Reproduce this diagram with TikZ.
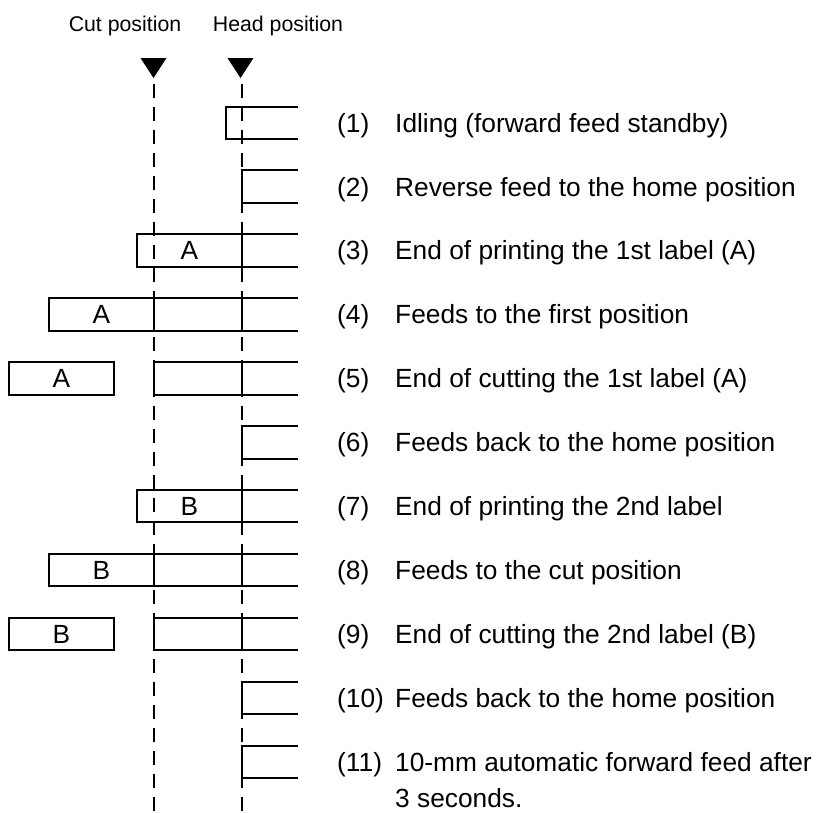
\documentclass[tikz,border=0pt]{standalone}
\usepackage{fontspec}
\setmainfont{Liberation Sans}
\begin{document}
\begin{tikzpicture}[x=1pt,y=-1pt,
  strip/.style={line width=2pt},
  guide/.style={line width=2.2pt, dash pattern=on 14pt off 9pt},
  marker/.style={fill=black},
  txt/.style={anchor=base west, inner sep=0pt, font=\fontsize{26.3}{32}\selectfont},
  hdr/.style={anchor=base, inner sep=0pt, font=\fontsize{21.3}{26}\selectfont},
  lbl/.style={anchor=base, inner sep=0pt, font=\fontsize{26.3}{32}\selectfont}]
\useasboundingbox (0,0) rectangle (819,812);
% headers
\node[hdr] (cuth) at (125,31.6) {Cut position};
\node[hdr] (headh) at (278,31.6) {Head position};
% markers
\coordinate (cuttop) at (154,84);
\coordinate (cutbot) at (154,812);
\coordinate (headtop) at (242,84);
\coordinate (headbot) at (242,812);
\fill[marker] (140.5,58) -- (166.5,58) -- (153.5,78) -- cycle;
\fill[marker] (227.5,58) -- (253.5,58) -- (240.5,78) -- cycle;
% guides
\draw[guide] (cuttop) -- (cutbot);
\draw[guide] (headtop) -- (headbot);
% strips
\foreach \i/\kind/\lab in {1/I/,2/H/,3/P/A,4/F/A,5/C/A,6/H/,7/P/B,8/F/B,9/C/B,10/H/,11/H/}{
  \pgfmathsetmacro{\T}{106.5+63.9*(\i-1)}
  \pgfmathsetmacro{\B}{\T+32.5}
  \pgfmathsetmacro{\M}{\T+16.25}
  \pgfmathsetmacro{\L}{\M+9.4}
  \if\kind I
    \draw[strip] (298,\T) -| (226,\B) -- (298,\B);
  \fi
  \if\kind H
    \draw[strip] (298,\T) -| (242,\B) -- (298,\B);
  \fi
  \if\kind P
    \draw[strip] (298,\T) -| (137,\B) -- (298,\B);
    \draw[strip] (242,\T) -- (242,\B);
    \node[lbl] (lab\i) at (189.5,\L) {\lab};
  \fi
  \if\kind F
    \draw[strip] (298,\T) -| (49,\B) -- (298,\B);
    \draw[strip] (154,\T) -- (154,\B);
    \draw[strip] (242,\T) -- (242,\B);
    \node[lbl] (lab\i) at (101.5,\L) {\lab};
  \fi
  \if\kind C
    \draw[strip] (9,\T) rectangle (114,\B);
    \draw[strip] (298,\T) -| (154,\B) -- (298,\B);
    \draw[strip] (242,\T) -- (242,\B);
    \node[lbl] (lab\i) at (61.5,\L) {\lab};
  \fi
}
% step texts
\foreach \i/\t in {1/{Idling (forward feed standby)},
  2/{Reverse feed to the home position},
  3/{End of printing the 1st label (A)},
  4/{Feeds to the first position},
  5/{End of cutting the 1st label (A)},
  6/{Feeds back to the home position},
  7/{End of printing the 2nd label},
  8/{Feeds to the cut position},
  9/{End of cutting the 2nd label (B)},
  10/{Feeds back to the home position},
  11/{10-mm automatic forward feed after}}{
  \pgfmathsetmacro{\L}{106.5+63.9*(\i-1)+16.25+9.4}
  \node[txt] (num\i) at (337,\L) {(\i)};
  \node[txt] (step\i) at (395,\L) {\t};
}
\node[txt] (step11b) at (395,807.3) {3 seconds.};
\end{tikzpicture}
\end{document}
